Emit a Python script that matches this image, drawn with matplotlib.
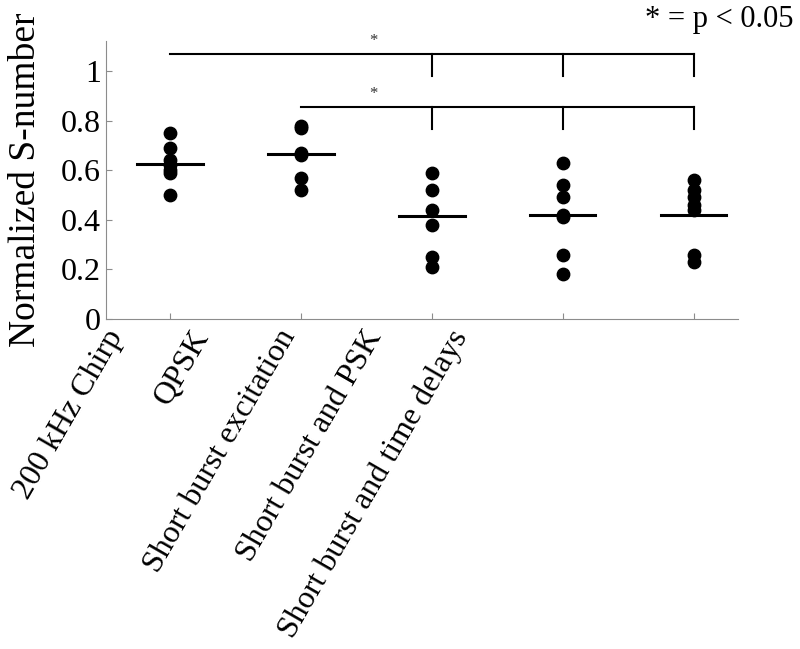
import matplotlib
matplotlib.use("Agg")
from matplotlib import pyplot as plt
from matplotlib.transforms import ScaledTranslation

# Normalized S-number per excitation method
categories = [
    "200 kHz Chirp",
    "QPSK",
    "Short burst excitation",
    "Short burst and PSK",
    "Short burst and time delays",
]
chirp_vals = [0.75, 0.69, 0.64, 0.62, 0.60, 0.59, 0.50]
qpsk_vals = [0.78, 0.77, 0.67, 0.66, 0.57, 0.52]
burst_vals = [0.59, 0.52, 0.44, 0.38, 0.25, 0.21]
burst_psk_vals = [0.63, 0.54, 0.49, 0.42, 0.41, 0.26, 0.18]
burst_delay_vals = [0.56, 0.52, 0.49, 0.46, 0.44, 0.26, 0.23]
medians = [0.623, 0.664, 0.415, 0.419, 0.421]

# significance brackets: (start group, groups that get a drop line, bar height)
brackets = [(1, [3, 4, 5], 1.07), (2, [3, 4, 5], 0.855)]

groups = [chirp_vals, qpsk_vals, burst_vals, burst_psk_vals, burst_delay_vals]
xpos = list(range(1, len(categories) + 1))

plt.rcParams["font.family"] = ["Liberation Serif", "DejaVu Serif"]

fig = plt.figure(figsize=(8, 6.49), dpi=100)
ax = fig.add_axes([0.1325, 0.5085, 0.79, 0.428])

for x, vals, med in zip(xpos, groups, medians):
    ax.scatter([x] * len(vals), vals, s=80, color="black", zorder=3)
    ax.plot([x - 0.25, x + 0.25], [med, med], color="black", lw=2.2, zorder=4)

for start, drops, h in brackets:
    ax.plot([start, drops[-1]], [h, h], color="black", lw=1.5)
    for d in drops:
        ax.plot([d, d], [h, h - 0.09], color="black", lw=1.5)
    ax.text(2.55, h + 0.02, "*", ha="center", va="bottom", fontsize=12,
            color="#333333")

ax.set_xlim(0.51, 5.34)
ax.set_ylim(0, 1.12)
ax.set_yticks([0, 0.2, 0.4, 0.6, 0.8, 1])
ax.set_yticklabels(["0", "0.2", "0.4", "0.6", "0.8", "1"])
ax.set_xticks(xpos)
ax.set_xticklabels([])

# the rotated category labels sit left of their ticks, as in the original
for i, (x, cat) in enumerate(zip(xpos, categories)):
    shift = ScaledTranslation(-(0.66 + 0.447 * i), -0.06, fig.dpi_scale_trans)
    ax.text(x, 0, cat, transform=ax.get_xaxis_transform() + shift,
            rotation=60, ha="right", va="top", rotation_mode="anchor",
            fontsize=23)

for side in ("top", "right"):
    ax.spines[side].set_visible(False)
for side in ("left", "bottom"):
    ax.spines[side].set_color("#8c8c8c")
ax.tick_params(direction="in", length=4, color="#8c8c8c", labelsize=23,
               labelcolor="black")
ax.set_ylabel("Normalized S-number", fontsize=27)
ax.yaxis.set_label_coords(-0.1, 0.5)

fig.text(0.806, 0.97, "* = p < 0.05", fontsize=22, va="center", ha="left")

fig.savefig("out.png", dpi=100)
